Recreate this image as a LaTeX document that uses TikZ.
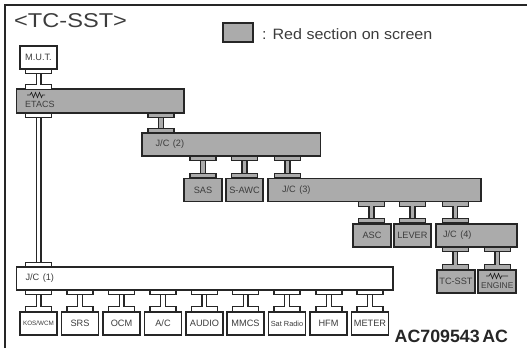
\documentclass[tikz,border=0pt]{standalone}
\usepackage{fontspec}
\setmainfont{Liberation Sans}
\newfontfamily\titlefont[FakeStretch=1.18]{Liberation Sans}
\newfontfamily\legendfont[FakeStretch=1.07]{Liberation Sans}
\usetikzlibrary{positioning}
\definecolor{ink}{HTML}{262626}
\definecolor{redsec}{HTML}{ABABAB}
\definecolor{labelink}{HTML}{3C3C3C}

\begin{document}
\begin{tikzpicture}[
  x=1pt, y=-1pt,
  box/.style={draw=ink, line width=1.4pt, fill=white, text=labelink, outer sep=0pt, inner sep=0pt, minimum width=37pt, minimum height=23pt, font=\fontsize{9.2}{11}\selectfont},
  redbox/.style={box, fill=redsec},
  bus/.style 2 args={box, minimum width=#1, text width=#1-2*#2, align=left},
  redbus/.style 2 args={bus={#1}{#2}, fill=redsec},
  tab/.style={draw=ink, line width=1.4pt, fill=white, outer sep=0pt, inner sep=0pt, minimum width=26pt, minimum height=4.5pt},
  redtab/.style={tab, fill=redsec},
  stem/.style={draw=ink, line width=1.4pt, double=white, double distance=3.4pt},
  redstem/.style={stem, double=redsec},
  wiggle/.style={draw=ink, line width=0.7pt, line join=miter},
  tag/.style={text=labelink, inner sep=0pt, font=\fontsize{9}{11}\selectfont},
]
\useasboundingbox (0,0) rectangle (527,348);
\draw[ink, line width=1.5pt] (5,348) -- (5,5) -- (527,5);

\node[anchor=west, inner sep=0pt, text=labelink, font=\titlefont\fontsize{20}{22}\selectfont] (title) at (14,21) {<TC-SST>};
\node[redbox, minimum width=30pt, minimum height=19pt] (legend) at (238,32.5) {};
\node[anchor=west, inner sep=0pt, text=labelink, font=\legendfont\fontsize{15}{17}\selectfont] (legendtxt) at (262,34) {: Red section on screen};
\node[anchor=west, inner sep=0pt, text=ink, font=\fontsize{17.8}{19}\selectfont\bfseries] (code) at (394.5,336.5) {\spaceskip=2.5pt\relax AC709543 AC};

% buses
\node[redbus={167.5pt}{8.5pt}, minimum height=24pt] (etacs) at (100.25,101) {};
\node[bus={376.5pt}{9pt}] (jc1) at (204.75,278.5) {\spaceskip=3.5pt\relax J/C (1)};
\node[redbus={178.7pt}{13.6pt}] (jc2) at (231.35,144.5) {\spaceskip=3.5pt\relax J/C (2)};
\node[redbus={213pt}{14pt}] (jc3) at (374.5,190) {\spaceskip=3.5pt\relax J/C (3)};
\node[redbus={81pt}{7pt}] (jc4) at (476.5,235.5) {\spaceskip=3.5pt\relax J/C (4)};

% units
\node[box] (mut) at (38.5,57.5) {M.U.T.};
\node[redbox, minimum width=38pt] (sas) at (203,190) {SAS};
\node[redbox] (sawc) at (244.5,190) {S-AWC};
\node[redbox, minimum width=38pt] (asc) at (372,235.5) {ASC};
\node[redbox] (lever) at (412.4,235.5) {LEVER};
\node[redbox, minimum width=38pt] (tcsst) at (456,281.5) {TC-SST};
\node[redbox, minimum width=38pt] (engine) at (497,281.5) {};
\node[box, font=\fontsize{6.3}{8}\selectfont] (kos) at (38.5,323.5) {KOS/WCM};
\node[box] (srs) at (80,323.5) {SRS};
\node[box] (ocm) at (121.5,323.5) {OCM};
\node[box] (ac) at (163,323.5) {A/C};
\node[box] (audio) at (204.5,323.5) {AUDIO};
\node[box] (mmcs) at (245.5,323.5) {MMCS};
\node[box, font=\fontsize{7.4}{9}\selectfont] (satradio) at (287,323.5) {Sat Radio};
\node[box] (hfm) at (328.5,323.5) {HFM};
\node[box] (meter) at (370,323.5) {METER};

% labels under the resistor marks
\node[tag, anchor=west] (etacstxt) at (25,104.5) {ETACS};
\node[tag, anchor=center, font=\fontsize{8.4}{10}\selectfont] (enginetxt) at (497.3,285.5) {ENGINE};
\draw[wiggle] (27,95) -- (30,95) -- (31.5,92.5) -- (33.5,97.5) -- (35.5,92.5) -- (37.5,97.5) -- (39.5,92.5) -- (41.5,97.5) -- (42.5,95) -- (45,95);
\draw[wiggle] (486,276) -- (489,276) -- (490.5,273.5) -- (492.5,278.5) -- (494.5,273.5) -- (496.5,278.5) -- (498.5,273.5) -- (500.5,278.5) -- (501.5,276) -- (508,276);

% links
\node[tab] (mutb) at (38.75,71.5) {};
\node[tab] (etacst) at (38.75,87) {};
\draw[stem] (mutb) -- (etacst);
\node[tab] (etacsb) at (38.75,115.5) {};
\node[tab] (jc1t) at (38.75,264.5) {};
\draw[stem] (etacsb) -- (jc1t);
\node[redtab] (etacsr) at (161,115.5) {};
\node[redtab] (jc2t) at (161,130.5) {};
\draw[redstem] (etacsr) -- (jc2t);
\node[redtab] (jc2a) at (203,158.5) {};
\node[redtab] (sast) at (203,175.5) {};
\draw[redstem] (jc2a) -- (sast);
\node[redtab] (jc2b) at (244.5,158.5) {};
\node[redtab] (sawct) at (244.5,175.5) {};
\draw[redstem] (jc2b) -- (sawct);
\node[redtab] (jc2c) at (287.5,158.5) {};
\node[redtab] (jc3t) at (287.5,175.5) {};
\draw[redstem] (jc2c) -- (jc3t);
\node[redtab] (jc3a) at (371.5,204) {};
\node[redtab] (asct) at (371.5,220.5) {};
\draw[redstem] (jc3a) -- (asct);
\node[redtab] (jc3b) at (412.5,204) {};
\node[redtab] (levert) at (412.5,220.5) {};
\draw[redstem] (jc3b) -- (levert);
\node[redtab] (jc3c) at (455.3,204) {};
\node[redtab] (jc4t) at (455.3,220.5) {};
\draw[redstem] (jc3c) -- (jc4t);
\node[redtab] (jc4a) at (455.3,249.5) {};
\node[redtab] (tcsstt) at (455.3,267) {};
\draw[redstem] (jc4a) -- (tcsstt);
\node[redtab] (jc4b) at (497.3,249.5) {};
\node[redtab] (enginet) at (497.3,267) {};
\draw[redstem] (jc4b) -- (enginet);

\node[tab] (jc1a) at (38.75,292.5) {};
\node[tab] (kost) at (38.75,309) {};
\draw[stem] (jc1a) -- (kost);
\node[tab] (jc1b) at (80,292.5) {};
\node[tab] (srst) at (80,309) {};
\draw[stem] (jc1b) -- (srst);
\node[tab] (jc1c) at (121.7,292.5) {};
\node[tab] (ocmt) at (121.7,309) {};
\draw[stem] (jc1c) -- (ocmt);
\node[tab] (jc1d) at (162.8,292.5) {};
\node[tab] (act) at (162.8,309) {};
\draw[stem] (jc1d) -- (act);
\node[tab] (jc1e) at (204.3,292.5) {};
\node[tab] (audiot) at (204.3,309) {};
\draw[stem] (jc1e) -- (audiot);
\node[tab] (jc1f) at (245.7,292.5) {};
\node[tab] (mmcst) at (245.7,309) {};
\draw[stem] (jc1f) -- (mmcst);
\node[tab] (jc1g) at (287,292.5) {};
\node[tab] (satradiot) at (287,309) {};
\draw[stem] (jc1g) -- (satradiot);
\node[tab] (jc1h) at (329,292.5) {};
\node[tab] (hfmt) at (329,309) {};
\draw[stem] (jc1h) -- (hfmt);
\node[tab] (jc1i) at (370,292.5) {};
\node[tab] (metert) at (370,309) {};
\draw[stem] (jc1i) -- (metert);

\end{tikzpicture}
\end{document}
